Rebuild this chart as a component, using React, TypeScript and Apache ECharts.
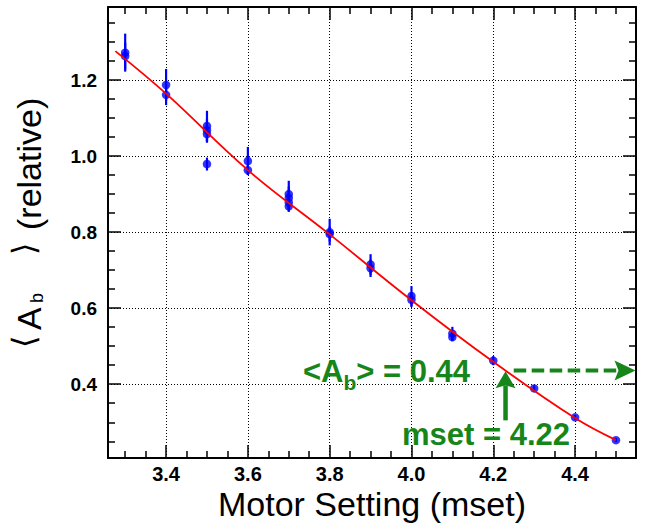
import React, { useEffect, useRef } from "react";
import * as echarts from "echarts";

// Axis ranges (frame edges)
const X_MIN = 3.258;
const X_MAX = 4.549;
const Y_MIN = 0.206;
const Y_MAX = 1.392;
const xTickLabels = ["3.4", "3.6", "3.8", "4.0", "4.2", "4.4"];
const yTickLabels = ["0.4", "0.6", "0.8", "1.0", "1.2"];

// Measured points (mset, <A_b>, error)
const pointX = [3.3, 3.3, 3.4, 3.4, 3.5, 3.5, 3.5, 3.5, 3.6, 3.6, 3.7, 3.7, 3.7, 3.7, 3.8, 3.8, 3.9, 3.9, 4.0, 4.0, 4.1, 4.1, 4.2, 4.3, 4.4, 4.5];
const pointY = [1.272, 1.263, 1.187, 1.161, 1.079, 1.068, 1.058, 0.979, 0.987, 0.963, 0.900, 0.890, 0.878, 0.868, 0.800, 0.795, 0.715, 0.705, 0.632, 0.622, 0.533, 0.524, 0.462, 0.389, 0.313, 0.253];
const pointErr = [0.05, 0.035, 0.042, 0.027, 0.04, 0.03, 0.023, 0.017, 0.037, 0.013, 0.035, 0.03, 0.025, 0.012, 0.035, 0.02, 0.027, 0.023, 0.026, 0.019, 0.018, 0.011, 0.012, 0.008, 0.006, 0.005];

// Fit curve
const fitX = [3.276, 3.4, 3.6, 3.8, 4.0, 4.2, 4.4, 4.5];
const fitY = [1.276, 1.164, 0.963, 0.794, 0.621, 0.459, 0.311, 0.253];

// Annotation
const annValue = "0.44";
const annMset = "4.22";
const hArrowY = 0.436;
const hArrowX0 = 4.25;
const vArrowX = 4.23;
const vArrowY0 = 0.305;
const vArrowY1 = 0.434;

const GREEN = "#16861a";
const FONT = "'Liberation Sans', Arial, Helvetica, sans-serif";

function textWidth(s: string, font: string): number {
  const ctx = document.createElement("canvas").getContext("2d");
  if (!ctx) return s.length * 10;
  ctx.font = font;
  return ctx.measureText(s).width;
}

const labelFmt = (labels: string[]) => (v: number) => {
  const s = v.toFixed(1);
  return Math.abs(v - parseFloat(s)) < 1e-6 && labels.includes(s) ? s : "";
};

function makeAxis(min: number, max: number, position: string, labels: string[] | null, grid: boolean, labelOpts: any) {
  return {
    type: "value",
    position,
    min,
    max,
    splitNumber: 6,
    axisLine: { show: true, onZero: false, lineStyle: { color: "#000", width: 2 } },
    axisTick: { show: true, inside: true, length: 13, lineStyle: { color: "#000", width: 1.5 } },
    minorTick: { show: true, splitNumber: 4, length: 7, lineStyle: { color: "#000", width: 1.5 } },
    splitLine: grid ? { show: true, lineStyle: { color: "#000", width: 1, type: [1, 2] } } : { show: false },
    minorSplitLine: { show: false },
    axisLabel: labels
      ? { show: true, showMinLabel: false, showMaxLabel: false, formatter: labelFmt(labels), ...labelOpts }
      : { show: false },
  };
}

export default function App() {
  const ref = useRef<HTMLDivElement>(null);
  useEffect(() => {
    if (!ref.current) return;
    const chart = echarts.init(ref.current, undefined, { renderer: "svg" });
    const option: any = {
      animation: false,
      backgroundColor: "#fff",
      grid: { left: 108, top: 7, right: 14, bottom: 67, containLabel: false },
      xAxis: [
        makeAxis(X_MIN, X_MAX, "bottom", xTickLabels, true, {
          margin: 6,
          fontFamily: FONT,
          fontWeight: "bold",
          fontSize: 20,
          color: "#000",
        }),
        makeAxis(X_MIN, X_MAX, "top", null, false, {}),
      ],
      yAxis: [
        makeAxis(Y_MIN, Y_MAX, "left", yTickLabels, true, {
          margin: 11,
          fontFamily: FONT,
          fontWeight: "bold",
          fontSize: 19,
          color: "#000",
        }),
        makeAxis(Y_MIN, Y_MAX, "right", null, false, {}),
      ],
      series: [
        {
          type: "custom",
          xAxisIndex: 0,
          yAxisIndex: 0,
          z: 2,
          data: pointX.map((x, i) => [x, pointY[i] - pointErr[i], pointY[i] + pointErr[i]]),
          encode: { x: 0, y: [1, 2] },
          renderItem: (params: any, api: any) => {
            const lo = api.coord([api.value(0), api.value(1)]);
            const hi = api.coord([api.value(0), api.value(2)]);
            return {
              type: "line",
              shape: { x1: lo[0], y1: lo[1], x2: hi[0], y2: hi[1] },
              style: { stroke: "#0000ff", lineWidth: 2.2 },
            };
          },
        },
        {
          type: "scatter",
          xAxisIndex: 0,
          yAxisIndex: 0,
          z: 3,
          symbol: "circle",
          symbolSize: 8.5,
          itemStyle: { color: "#0000ff" },
          data: pointX.map((x, i) => [x, pointY[i]]),
        },
        {
          type: "line",
          xAxisIndex: 0,
          yAxisIndex: 0,
          z: 4,
          smooth: 0.4,
          showSymbol: false,
          symbol: "none",
          lineStyle: { color: "#ff0000", width: 1.8 },
          data: fitX.map((x, i) => [x, fitY[i]]),
        },
      ],
    };
    chart.setOption(option);

    const px = (x: number, y: number) => chart.convertToPixel({ gridIndex: 0 }, [x, y]) as number[];

    // Dashed horizontal arrow
    const hA = px(hArrowX0, hArrowY);
    const hB = px(X_MAX, hArrowY);
    const tipX = hB[0] - 0.5;
    const hy = hA[1];
    // Vertical arrow
    const vA = px(vArrowX, vArrowY0);
    const vB = px(vArrowX, vArrowY1);
    const vx = vA[0];

    const big = `bold 31px ${FONT}`;
    const sub = `bold 21px ${FONT}`;
    const t1a = "<A";
    const t1b = "b";
    const t1c = `> = ${annValue}`;
    const w1a = textWidth(t1a, big);
    const w1b = textWidth(t1b, sub);
    const w1c = textWidth(t1c, big);
    const t1Right = 470;
    const t1Left = t1Right - (w1a + w1b + w1c);
    const t1Base = 382.7;
    const midOff = (f: number) => 0.3465 * f;

    const ytFont = `34px ${FONT}`;
    const brFont = `200 32px 'DejaVu Sans', ${FONT}`;
    const ytBase = 41;

    chart.setOption({
      graphic: [
        {
          type: "line",
          shape: { x1: hA[0], y1: hy, x2: tipX - 18, y2: hy },
          style: { stroke: GREEN, lineWidth: 4, lineDash: [12.5, 5.5] },
          z: 10,
        },
        {
          type: "polygon",
          shape: { points: [[tipX, hy], [tipX - 21, hy - 10], [tipX - 17, hy], [tipX - 21, hy + 10]] },
          style: { fill: GREEN },
          z: 10,
        },
        {
          type: "line",
          shape: { x1: vx, y1: vA[1], x2: vx, y2: vB[1] + 14 },
          style: { stroke: GREEN, lineWidth: 4.5 },
          z: 10,
        },
        {
          type: "polygon",
          shape: { points: [[vx, vB[1]], [vx - 10, vB[1] + 17], [vx, vB[1] + 14], [vx + 10, vB[1] + 17]] },
          style: { fill: GREEN },
          z: 10,
        },
        {
          type: "text",
          x: t1Left,
          y: t1Base - midOff(31),
          z: 10,
          style: { text: t1a, font: big, fill: GREEN, align: "left", verticalAlign: "middle" },
        },
        {
          type: "text",
          x: t1Left + w1a,
          y: 390 - midOff(21),
          z: 10,
          style: { text: t1b, font: sub, fill: GREEN, align: "left", verticalAlign: "middle" },
        },
        {
          type: "text",
          x: t1Left + w1a + w1b,
          y: t1Base - midOff(31),
          z: 10,
          style: { text: t1c, font: big, fill: GREEN, align: "left", verticalAlign: "middle" },
        },
        {
          type: "text",
          x: 402,
          y: 445 - midOff(31),
          z: 10,
          style: { text: `mset = ${annMset}`, font: big, fill: GREEN, align: "left", verticalAlign: "middle" },
        },
        // X axis title
        {
          type: "text",
          x: 372,
          y: 516 - midOff(34),
          style: { text: "Motor Setting (mset)", font: ytFont, fill: "#000", align: "center", verticalAlign: "middle" },
        },
        // Y axis title pieces (rotated, reading bottom to top)
        {
          type: "text",
          x: 24,
          y: 348,
          rotation: Math.PI / 2,
          style: { text: "⟨", font: brFont, fill: "#000", align: "left", verticalAlign: "middle" },
        },
        {
          type: "text",
          x: ytBase - midOff(34),
          y: 330,
          rotation: Math.PI / 2,
          style: { text: "A", font: ytFont, fill: "#000", align: "left", verticalAlign: "middle" },
        },
        {
          type: "text",
          x: 43.5 - midOff(18),
          y: 303,
          rotation: Math.PI / 2,
          style: { text: "b", font: `18px ${FONT}`, fill: "#000", align: "left", verticalAlign: "middle" },
        },
        {
          type: "text",
          x: 24,
          y: 255,
          rotation: Math.PI / 2,
          style: { text: "⟩", font: brFont, fill: "#000", align: "left", verticalAlign: "middle" },
        },
        {
          type: "text",
          x: ytBase - midOff(34),
          y: 230,
          rotation: Math.PI / 2,
          style: { text: "(relative)", font: ytFont, fill: "#000", align: "left", verticalAlign: "middle" },
        },
      ],
    });

    return () => chart.dispose();
  }, []);
  return (
    <div
      ref={ref}
      style={{ position: "absolute", left: 0, top: 0, width: 650, height: 525, background: "#fff" }}
    />
  );
}
